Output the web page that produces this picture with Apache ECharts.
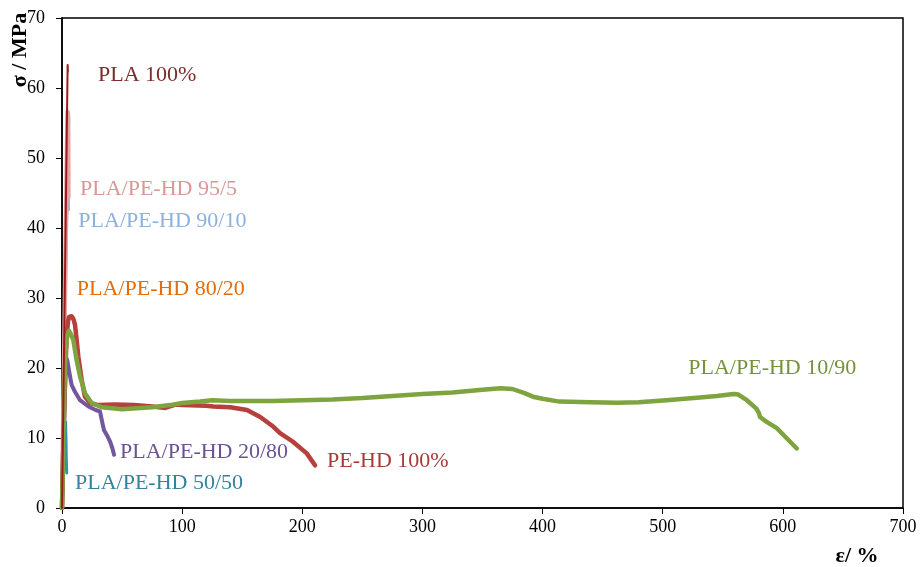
<!DOCTYPE html>
<html><head><meta charset="utf-8">
<script src="https://cdn.jsdelivr.net/npm/echarts@6/dist/echarts.min.js"></script>
<style>html,body{margin:0;padding:0;background:#fff}#c{width:920px;height:567px}</style>
</head><body><div id="c"></div><script>
// strain (%) , stress (MPa)
const orange8020 = [[0,0],[1.2,16],[2.2,29],[2.5,31],[2.7,30.4]];
const blue9010 = [[0,0],[1.4,16],[2.8,32],[3.9,43],[4.7,44.5],[5.1,44],[5.2,42.6]];
const pink9505 = [[0,0],[1.3,16],[2.6,32],[3.7,46],[4.6,56.6],[5.1,56],[5.3,44.4]];
const teal5050 = [[0,0],[1,4],[2,8.5],[3,12.3],[3.3,10],[3.6,7],[3.9,5]];
const purple2080 = [[0,0],[1,7],[2,14],[3,19.5],[3.5,21.5],[4.5,21],[5.5,20],[6.7,18.8],[8,17.6],[10.8,16.6],[15,15.4],[22,14.5],[28,14],[31.6,13.8],[33,13.8],[33.8,12],[35,11.1],[38,10.2],[40,9.5],[42,8.5],[43.3,7.6]];
const pehd100 = [[0,0],[1,8],[2,15],[3,21],[4.2,25],[5,26.7],[6,27.3],[7,27.5],[8,27.4],[9.5,27],[10.8,26.2],[12.2,24],[13.6,21.6],[16.4,18.3],[19.1,15.9],[23.3,15],[30.2,14.7],[44,14.8],[60,14.7],[75,14.5],[86,14.3],[95,14.8],[100,14.7],[120,14.6],[126,14.5],[140,14.4],[154,14],[165,13],[176,11.6],[181.5,10.7],[192,9.5],[203.7,7.8],[210.6,6.1]];
const green1090 = [[0,0],[1,8],[2,17],[3,22.5],[4.5,24.8],[5.8,25.3],[7.5,24.8],[9.4,24],[12.2,21.1],[15,18.8],[19.1,16.4],[24.7,15],[33,14.4],[44,14.2],[50,14.1],[75,14.4],[90,14.7],[100,15],[115,15.2],[125,15.4],[140,15.3],[150,15.3],[175,15.3],[200,15.4],[225,15.5],[250,15.7],[275,16],[300,16.3],[325,16.5],[350,16.9],[365,17.1],[375,17],[385,16.4],[392,15.9],[400,15.6],[414,15.2],[440,15.1],[462,15.04],[480,15.1],[503,15.4],[531,15.8],[545,16],[559,16.3],[563,16.2],[570,15.4],[578,14.2],[580,13.6],[581,13],[586.5,12.3],[595,11.4],[603,10],[611.6,8.5]];
const pla100 = [[0,0],[1.2,16],[2.4,32],[3.5,47],[4.3,58],[4.7,63.3],[4.9,62.3]];

const xTicks = [0,100,200,300,400,500,600,700];
const yTicks = [0,10,20,30,40,50,60,70];

const labelTexts = ['PLA 100%','PLA/PE-HD 95/5','PLA/PE-HD 90/10','PLA/PE-HD 80/20','PLA/PE-HD 10/90','PLA/PE-HD 20/80','PE-HD 100%','PLA/PE-HD 50/50'];
const labelAnchors = [[30,61.8],[15,45.5],[13.6,41],[12.3,31.3],[521.3,20],[48.3,7.9],[220.6,6.7],[10.8,3.5]];
const labelColors = ['#7B2C2C','#DA9796','#8DB1DD','#E46C0A','#76923C','#6B5294','#A83A3A','#31849B'];

const FONT = '"Liberation Serif","Times New Roman",serif';
const chart = echarts.init(document.getElementById('c'), null, {renderer:'canvas'});

function line(data, color, width){
  return {type:'line', data, showSymbol:false, symbol:'none', smooth:false, animation:false,
    lineStyle:{color, width, cap:'round', join:'round'}};
}

chart.setOption({
  animation:false,
  backgroundColor:'#fff',
  grid:{left:62, right:17, top:18, bottom:59, show:true, borderColor:'#000', borderWidth:1.5, backgroundColor:'transparent'},
  xAxis:{type:'value', min:xTicks[0], max:xTicks[xTicks.length-1], interval:100,
    axisLine:{show:true, onZero:false, lineStyle:{color:'#000', width:1.5}},
    axisTick:{show:true, inside:false, length:6, lineStyle:{color:'#000'}},
    splitLine:{show:false},
    axisLabel:{color:'#000', fontFamily:FONT, fontSize:18, margin:10}},
  yAxis:{type:'value', min:yTicks[0], max:yTicks[yTicks.length-1], interval:10,
    axisLine:{show:true, onZero:false, lineStyle:{color:'#000', width:1.5}},
    axisTick:{show:true, inside:false, length:6, lineStyle:{color:'#000'}},
    splitLine:{show:false},
    axisLabel:{color:'#000', fontFamily:FONT, fontSize:18, margin:17}},
  series:[
    line(orange8020,'#E46C0A',2),
    line(blue9010,'#95B3D7',3.5),
    line(pink9505,'#E6A4A4',4.5),
    line(teal5050,'#3591A8',3),
    line(purple2080,'#72569E',4),
    line(pehd100,'#B5403C',4.5),
    line(green1090,'#7EA43F',4.5),
    line(pla100,'#9B1B1B',2)
  ]
});

const g = labelTexts.map((t,i)=>{
  const p = chart.convertToPixel({gridIndex:0}, labelAnchors[i]);
  return {type:'text', x:p[0], y:p[1], style:{text:t, fill:labelColors[i], font:'22px '+FONT, textAlign:'left', textVerticalAlign:'middle'}};
});
g.push({type:'text', x:20, y:50, rotation:Math.PI/2, style:{text:'σ / MPa', fill:'#000', font:'bold 22px '+FONT, textAlign:'center', textVerticalAlign:'middle'}});
g.push({type:'text', x:857, y:556, style:{text:'ε/ %', fill:'#000', font:'bold 22px '+FONT, textAlign:'center', textVerticalAlign:'middle'}});
chart.setOption({graphic:g});
</script></body></html>
